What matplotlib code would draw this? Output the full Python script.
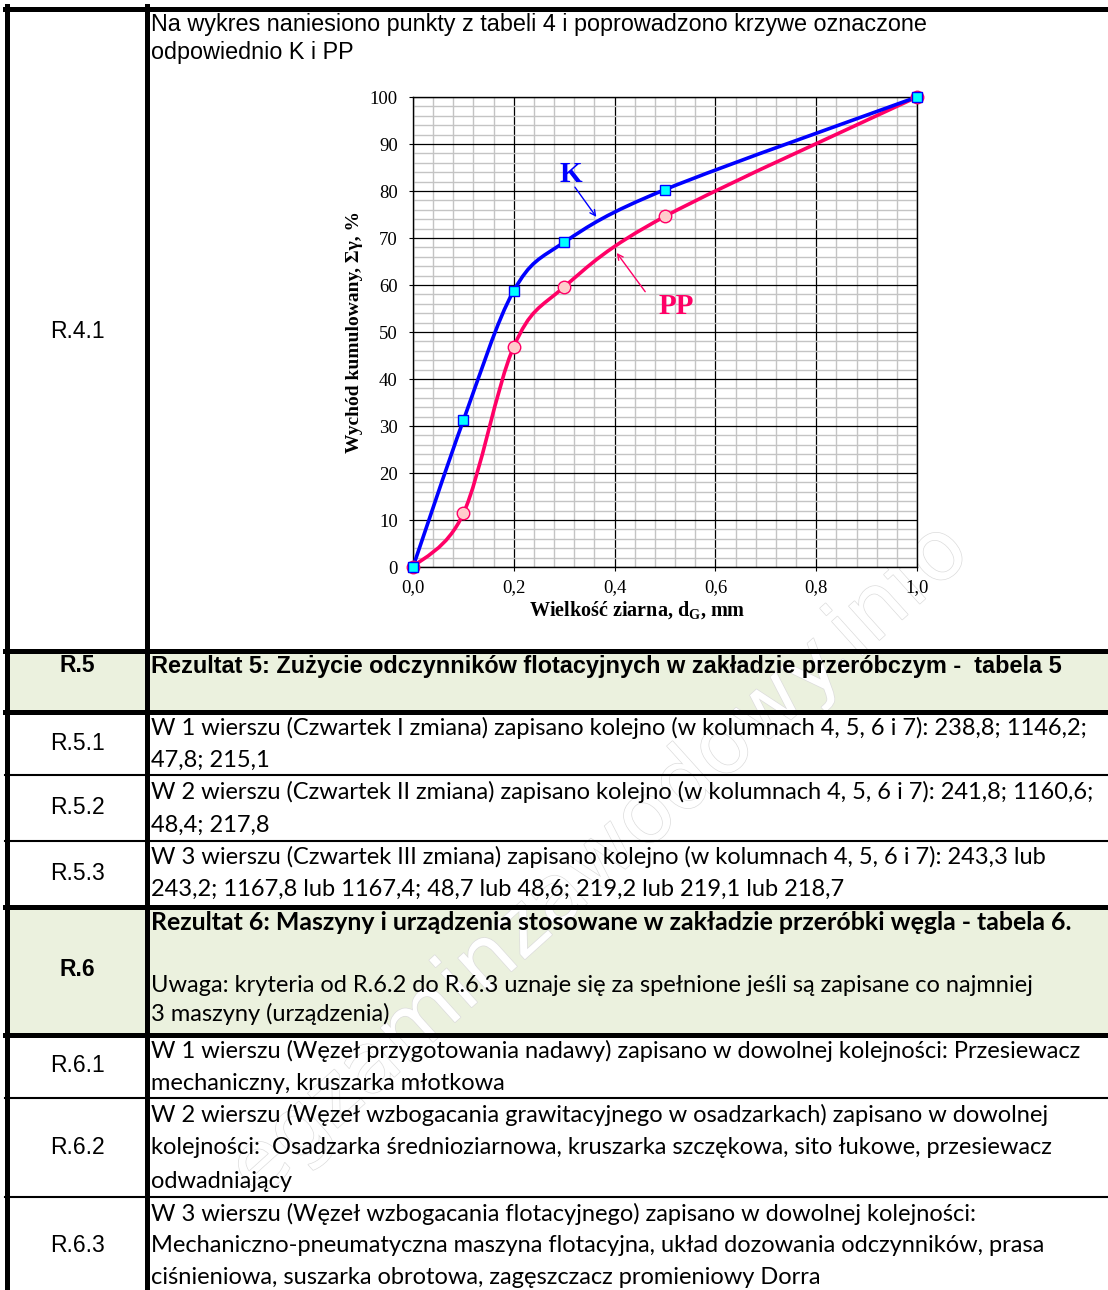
import numpy as np
import matplotlib.pyplot as plt
from matplotlib.path import Path
from matplotlib.patches import PathPatch, Rectangle
import matplotlib.patheffects as pe

# chart data
size_mm = [0.0, 0.1, 0.2, 0.3, 0.5, 1.0]
yield_k = [0.0, 31.2, 58.8, 69.1, 80.3, 100.0]
yield_pp = [0.0, 11.4, 46.9, 59.6, 74.6, 100.0]

x_ticks = [0.0, 0.2, 0.4, 0.6, 0.8, 1.0]
x_tick_labels = ['0,0', '0,2', '0,4', '0,6', '0,8', '1,0']
y_ticks = [0, 10, 20, 30, 40, 50, 60, 70, 80, 90, 100]

# table texts
codes = ['R.4.1', 'R.5', 'R.5.1', 'R.5.2', 'R.5.3', 'R.6', 'R.6.1', 'R.6.2', 'R.6.3']
intro_lines = ['Na wykres naniesiono punkty z tabeli 4 i poprowadzono krzywe oznaczone',
               'odpowiednio K i PP']
r5_header = 'Rezultat 5: Zużycie odczynników flotacyjnych w zakładzie przeróbczym -  tabela 5'
r51_lines = ['W 1 wierszu (Czwartek I zmiana) zapisano kolejno (w kolumnach 4, 5, 6 i 7): 238,8; 1146,2;',
             '47,8; 215,1']
r52_lines = ['W 2 wierszu (Czwartek II zmiana) zapisano kolejno (w kolumnach 4, 5, 6 i 7): 241,8; 1160,6;',
             '48,4; 217,8']
r53_lines = ['W 3 wierszu (Czwartek III zmiana) zapisano kolejno (w kolumnach 4, 5, 6 i 7): 243,3 lub',
             '243,2; 1167,8 lub 1167,4; 48,7 lub 48,6; 219,2 lub 219,1 lub 218,7']
r6_header = 'Rezultat 6: Maszyny i urządzenia stosowane w zakładzie przeróbki węgla - tabela 6.'
r6_note = ['Uwaga: kryteria od R.6.2 do R.6.3 uznaje się za spełnione jeśli są zapisane co najmniej',
           '3 maszyny (urządzenia)']
r61_lines = ['W 1 wierszu (Węzeł przygotowania nadawy) zapisano w dowolnej kolejności: Przesiewacz',
             'mechaniczny, kruszarka młotkowa']
r62_lines = ['W 2 wierszu (Węzeł wzbogacania grawitacyjnego w osadzarkach) zapisano w dowolnej',
             'kolejności:  Osadzarka średnioziarnowa, kruszarka szczękowa, sito łukowe, przesiewacz',
             'odwadniający']
r63_lines = ['W 3 wierszu (Węzeł wzbogacania flotacyjnego) zapisano w dowolnej kolejności:',
             'Mechaniczno-pneumatyczna maszyna flotacyjna, układ dozowania odczynników, prasa',
             'ciśnieniowa, suszarka obrotowa, zagęszczacz promieniowy Dorra']
watermark = 'egzaminzawodowy.info'


def smooth_path(xs, ys):
    # Excel-like smoothed line: cubic Bezier through every point
    pts = np.column_stack([xs, ys])
    n = len(pts)
    verts = [pts[0]]
    kinds = [Path.MOVETO]
    for i in range(n - 1):
        p0 = pts[max(i - 1, 0)]
        p1 = pts[i]
        p2 = pts[i + 1]
        p3 = pts[min(i + 2, n - 1)]
        verts += [p1 + (p2 - p0) / 6, p2 - (p3 - p1) / 6, p2]
        kinds += [Path.CURVE4] * 3
    return Path(verts, kinds)


W, H = 1108, 1290
fig = plt.figure(figsize=(W / 100, H / 100), dpi=100)

# ---- table drawn in pixel coordinates ----
bg = fig.add_axes([0, 0, 1, 1])
bg.set_xlim(0, W)
bg.set_ylim(H, 0)
bg.axis('off')

green = '#EBF1DE'
bg.add_patch(Rectangle((9, 653), W - 9, 56, color=green, zorder=0))
bg.add_patch(Rectangle((9, 909), W - 9, 123, color=green, zorder=0))

thick = 3.6
thin = 1.5
bg.plot([5, W], [8.5, 8.5], color='black', lw=thick, zorder=3)
for y in [650.5, 711.5, 906.5, 1034.5]:
    bg.plot([5, W], [y, y], color='black', lw=thick, zorder=3)
for y in [775, 841, 1098, 1197]:
    bg.plot([5, W], [y, y], color='black', lw=thin, zorder=3)
bg.plot([7, 7], [6, H], color='black', lw=thick, zorder=3)
bg.plot([146.5, 146.5], [6, H], color='black', lw=thick, zorder=3)

# faint outlined watermark
bg.text(600, 860, watermark, ha='center', va='center', rotation=42, fontsize=60,
        family='DejaVu Sans', color='white', zorder=1,
        path_effects=[pe.withStroke(linewidth=1.0, foreground='#DCDCDC')])

arial = 'Liberation Sans'
calibri = 'Lato'
code_y = [331, 666, 744, 808, 873, 969, 1066, 1147, 1245]
code_bold = [False, True, False, False, False, True, False, False, False]
for c, y, b in zip(codes, code_y, code_bold):
    bg.text(77, y, c, ha='center', va='center', family=arial, fontsize=16.5,
            fontweight='bold' if b else 'normal', zorder=4)

tx = 151
for line, y in zip(intro_lines, [24, 52]):
    bg.text(tx, y, line, va='center', family=arial, fontsize=16.8, zorder=4)
bg.text(tx, 666, r5_header, va='center', family=arial, fontsize=16.9, fontweight='bold', zorder=4)


def put_lines(lines, ys, size=17, **kw):
    for line, y in zip(lines, ys):
        bg.text(tx, y, line, va='center', family=calibri, fontsize=size, zorder=4, **kw)


put_lines(r51_lines, [728, 760])
put_lines(r52_lines, [792, 825])
put_lines(r53_lines, [857, 889])
put_lines([r6_header], [923], size=17.9, fontweight='bold')
put_lines(r6_note, [985, 1014])
put_lines(r61_lines, [1051, 1083])
put_lines(r62_lines, [1115, 1148, 1181])
put_lines(r63_lines, [1214, 1246, 1278])

# ---- chart ----
ax = fig.add_axes([413 / W, 1 - 567 / H, 504 / W, 470 / H])
ax.set_zorder(2)
ax.set_xlim(0, 1.0)
ax.set_ylim(0, 100)
ax.set_xticks(x_ticks)
ax.set_xticklabels(x_tick_labels)
ax.set_yticks(y_ticks)
ax.set_xticks(np.arange(0, 1.0001, 0.04), minor=True)
ax.set_yticks(np.arange(0, 101, 2), minor=True)
ax.grid(which='minor', color='#C4C4C4', lw=1.0)
ax.grid(which='major', color='black', lw=0.9)
ax.set_axisbelow(True)
ax.tick_params(which='minor', length=0)
ax.tick_params(which='major', length=3, width=0.8, direction='out')
ax.tick_params(axis='y', pad=8)
ax.tick_params(axis='x', pad=6)
for lab in ax.get_xticklabels() + ax.get_yticklabels():
    lab.set_family('Liberation Serif')
    lab.set_fontsize(13.5)
for s in ax.spines.values():
    s.set_color('black')
    s.set_linewidth(1.0)

ax.add_patch(PathPatch(smooth_path(size_mm, yield_pp), fill=False, edgecolor='#FF0066', lw=2.6, zorder=3))
ax.add_patch(PathPatch(smooth_path(size_mm, yield_k), fill=False, edgecolor='#0000FF', lw=2.6, zorder=3))
ax.plot(size_mm, yield_pp, 'o', ms=9, mfc='#FFCCCC', mec='#FF0066', mew=1.0, zorder=4, clip_on=False)
ax.plot(size_mm, yield_k, 's', ms=7, mfc='#00FFFF', mec='#0000FF', mew=1.0, zorder=5, clip_on=False)

ax.text(0.314, 83.6, 'K', color='#0000FF', family='Liberation Serif', fontsize=21,
        fontweight='bold', ha='center', va='center', zorder=6)
ax.annotate('', xy=(0.367, 74.0), xytext=(0.318, 81.3),
            arrowprops=dict(arrowstyle='->', color='#0000FF', lw=1.0), zorder=6)
ax.text(0.522, 55.4, 'PP', color='#FF0066', family='Liberation Serif', fontsize=21,
        fontweight='bold', ha='center', va='center', zorder=6)
ax.annotate('', xy=(0.401, 67.3), xytext=(0.464, 58.1),
            arrowprops=dict(arrowstyle='->', color='#FF0066', lw=1.0), zorder=6)

ax.text(-0.117, 0.5, 'Wychód kumulowany, Σγ, %', transform=ax.transAxes, rotation=90,
        ha='center', va='center', family='Liberation Serif', fontsize=14, fontweight='bold')
plt.rcParams['mathtext.fontset'] = 'custom'
plt.rcParams['mathtext.bf'] = 'Liberation Serif:bold'
ax.text(0.444, -0.0915, r'Wielkość ziarna, d$_\mathbf{G}$, mm', transform=ax.transAxes,
        ha='center', va='center', family='Liberation Serif', fontsize=14.5, fontweight='bold')

fig.savefig('out.png', dpi=100)
